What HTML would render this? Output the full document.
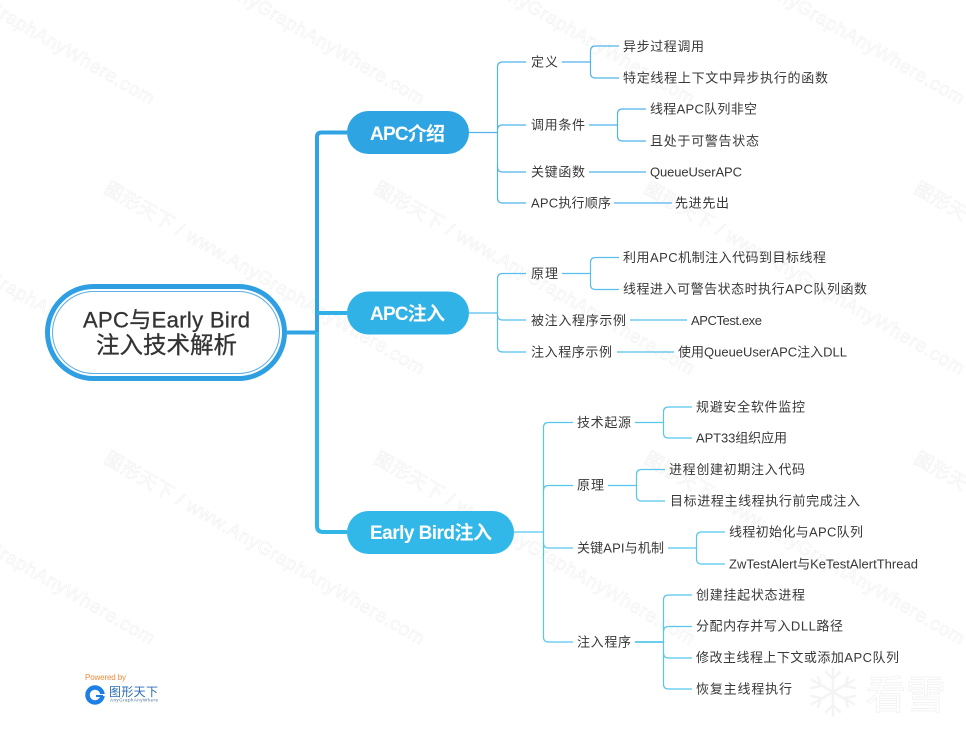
<!DOCTYPE html>
<html><head><meta charset="utf-8">
<style>
html,body{margin:0;padding:0;background:#fff;width:966px;height:740px;overflow:hidden}
svg{display:block}
text{font-family:"Liberation Sans","Noto Sans CJK SC",sans-serif}
.t{font-size:13px;fill:#383838}
.w{font-size:18.5px;fill:none;stroke:#efefef;stroke-width:.55}
.p{font-size:19px;font-weight:bold;fill:#fff}
.r{fill:#333;stroke:#333;stroke-width:.3}
.l path{fill:none}
</style></head><body>
<svg width="966" height="740" viewBox="0 0 966 740" xmlns="http://www.w3.org/2000/svg">
<defs>
<text id="wm" class="w" x="0" y="0" textLength="366" transform="rotate(30)">图形天下 / www.AnyGraphAnyWhere.com</text>
</defs>
<!-- watermarks -->
<g>
<use href="#wm" transform="translate(-167,-78)"/>
<use href="#wm" transform="translate(103,-78)"/>
<use href="#wm" transform="translate(373,-78)"/>
<use href="#wm" transform="translate(643,-78)"/>
<use href="#wm" transform="translate(913,-78)"/>
<use href="#wm" transform="translate(-167,192)"/>
<use href="#wm" transform="translate(103,192)"/>
<use href="#wm" transform="translate(373,192)"/>
<use href="#wm" transform="translate(643,192)"/>
<use href="#wm" transform="translate(913,192)"/>
<use href="#wm" transform="translate(-167,462)"/>
<use href="#wm" transform="translate(103,462)"/>
<use href="#wm" transform="translate(373,462)"/>
<use href="#wm" transform="translate(643,462)"/>
<use href="#wm" transform="translate(913,462)"/>
</g>
<!-- main trunk -->
<g fill="none" stroke-width="4">
<path d="M287 332.5H317V137Q317 132.5 321.5 132.5H347" stroke="#2fa3e3"/>
<path d="M317 313H347" stroke="#30b0e6"/>
<path d="M317 332V526Q317 532 323 532H347" stroke="#32b5e7"/>
</g>
<!-- section 1 -->
<g class="l" fill="none" stroke="#52b3ea" stroke-width="1.2">
<path d="M469 132.5H497.5"/>
<path d="M526 62H502.5Q497.5 62 497.5 67V198Q497.5 203 502.5 203H526"/>
<path d="M497.5 130Q497.5 125 502.5 125H526"/>
<path d="M497.5 167Q497.5 172 502.5 172H526"/>
<path d="M562 62H590.5"/>
<path d="M619 46H595.5Q590.5 46 590.5 51V73Q590.5 78 595.5 78H619"/>
<path d="M589 125H617.5"/>
<path d="M646 109H622.5Q617.5 109 617.5 114V136Q617.5 141 622.5 141H646"/>
<path d="M589 172H646"/>
<path d="M614 203H672"/>
</g>
<!-- section 2 -->
<g class="l" fill="none" stroke="#55beec" stroke-width="1.2">
<path d="M469 313H497.5"/>
<path d="M526 273.5H502.5Q497.5 273.5 497.5 278.5V347Q497.5 352 502.5 352H526"/>
<path d="M497.5 315Q497.5 320 502.5 320H526"/>
<path d="M562 273.5H590.5"/>
<path d="M619 257.5H595.5Q590.5 257.5 590.5 262.5V284.5Q590.5 289.5 595.5 289.5H619"/>
<path d="M630 320H687"/>
<path d="M617 352H674"/>
</g>
<!-- section 3 -->
<g class="l" fill="none" stroke="#55c7ec" stroke-width="1.2">
<path d="M514 532H543.5"/>
<path d="M573 422.5H548.5Q543.5 422.5 543.5 427.5V637Q543.5 642 548.5 642H573"/>
<path d="M543.5 490.5Q543.5 485.5 548.5 485.5H573"/>
<path d="M543.5 543Q543.5 548 548.5 548H573"/>
<path d="M635 422.5H663.5"/>
<path d="M692 407H668.5Q663.5 407 663.5 412V433Q663.5 438 668.5 438H692"/>
<path d="M608 485.5H636.5"/>
<path d="M665 469.5H641.5Q636.5 469.5 636.5 474.5V496Q636.5 501 641.5 501H665"/>
<path d="M668 548H696.5"/>
<path d="M725 532H701.5Q696.5 532 696.5 537V559Q696.5 564 701.5 564H725"/>
<path d="M635 642H663.5" stroke-width="1.8"/>
<path d="M692 595H668.5Q663.5 595 663.5 600V684Q663.5 689 668.5 689H692"/>
<path d="M663.5 631.5Q663.5 626.5 668.5 626.5H692"/>
<path d="M663.5 653Q663.5 658 668.5 658H692"/>
</g>
<!-- root -->
<rect x="47.5" y="286.5" width="237" height="92" rx="46" fill="#fff" stroke="#2f9fe3" stroke-width="5"/>
<rect x="52.5" y="291.5" width="227" height="82" rx="41" fill="#fff" stroke="#59ade8" stroke-width="1"/>
<text class="r" x="83" y="327.5" font-size="22" textLength="167">APC与Early Bird</text>
<text class="r" x="96" y="353" font-size="23.5" textLength="141">注入技术解析</text>
<!-- pills -->
<rect x="347" y="111" width="122" height="43" rx="21.5" fill="#2fa4e2"/>
<text class="p" x="370" y="140" textLength="75">APC介绍</text>
<rect x="347" y="291.5" width="122" height="43" rx="21.5" fill="#30b2e6"/>
<text class="p" x="370" y="320" textLength="75">APC注入</text>
<rect x="347" y="511" width="167" height="43" rx="21.5" fill="#32b8e8"/>
<text class="p" x="370" y="539" textLength="122">Early Bird注入</text>
<!-- labels -->
<g class="t">
<text x="531" y="66.5" textLength="27">定义</text>
<text x="623" y="51" textLength="81">异步过程调用</text>
<text x="623" y="82.5" textLength="205">特定线程上下文中异步执行的函数</text>
<text x="531" y="129.5" textLength="54">调用条件</text>
<text x="650" y="113.5" textLength="107">线程APC队列非空</text>
<text x="650" y="145.5" textLength="109">且处于可警告状态</text>
<text x="531" y="176.5" textLength="54">关键函数</text>
<text x="650" y="176.5" textLength="92">QueueUserAPC</text>
<text x="531" y="207.5" textLength="80">APC执行顺序</text>
<text x="675" y="207.5" textLength="54">先进先出</text>
<text x="531" y="278" textLength="27">原理</text>
<text x="623" y="262" textLength="203">利用APC机制注入代码到目标线程</text>
<text x="623" y="293.5" textLength="244">线程进入可警告状态时执行APC队列函数</text>
<text x="531" y="325" textLength="95">被注入程序示例</text>
<text x="691" y="325" textLength="71">APCTest.exe</text>
<text x="531" y="356.5" textLength="81">注入程序示例</text>
<text x="678" y="356.5" textLength="169">使用QueueUserAPC注入DLL</text>
<text x="577" y="427" textLength="54">技术起源</text>
<text x="696" y="411.5" textLength="109">规避安全软件监控</text>
<text x="696" y="442.5" textLength="91">APT33组织应用</text>
<text x="577" y="489.5" textLength="27">原理</text>
<text x="669" y="474" textLength="136">进程创建初期注入代码</text>
<text x="670" y="505.5" textLength="190">目标进程主线程执行前完成注入</text>
<text x="577" y="552.5" textLength="87">关键API与机制</text>
<text x="729" y="536.5" textLength="134">线程初始化与APC队列</text>
<text x="729" y="568.5" textLength="189">ZwTestAlert与KeTestAlertThread</text>
<text x="577" y="646.5" textLength="54">注入程序</text>
<text x="696" y="599.5" textLength="109">创建挂起状态进程</text>
<text x="696" y="630.5" textLength="147">分配内存并写入DLL路径</text>
<text x="696" y="662" textLength="203">修改主线程上下文或添加APC队列</text>
<text x="696" y="693.5" textLength="96">恢复主线程执行</text>
</g>
<!-- powered by -->
<text x="85" y="680" font-size="8" fill="#f08a3c" textLength="41">Powered by</text>
<circle cx="95" cy="695" r="7.5" fill="none" stroke="#1e80e6" stroke-width="4.5"/>
<path d="M96 695h10" stroke="#fff" stroke-width="2"/>
<path d="M96 696h7" stroke="#1e80e6" stroke-width="2"/>
<text x="109" y="696" font-size="12" fill="#2a6cb8" textLength="49">图形天下</text>
<text x="110" y="701.5" font-size="4.5" fill="#4a6f9a" textLength="48">AnyGraphAnyWhere</text>
<!-- snow logo -->
<g stroke="#f4f4f4" stroke-width="2.5" fill="none" stroke-linecap="round">
<path d="M833 668V716M812 680L854 704M812 704L854 680"/>
<path d="M826 672L833 679L840 672M826 712L833 705L840 712M811 688L821 686L818 677M855 688L845 686L848 677M811 696L821 698L818 707M855 696L845 698L848 707"/>
</g>
<text x="866" y="709" font-size="40" fill="#fff" stroke="#f3f3f3" stroke-width="1" textLength="80">看雪</text>
</svg>
</body></html>
